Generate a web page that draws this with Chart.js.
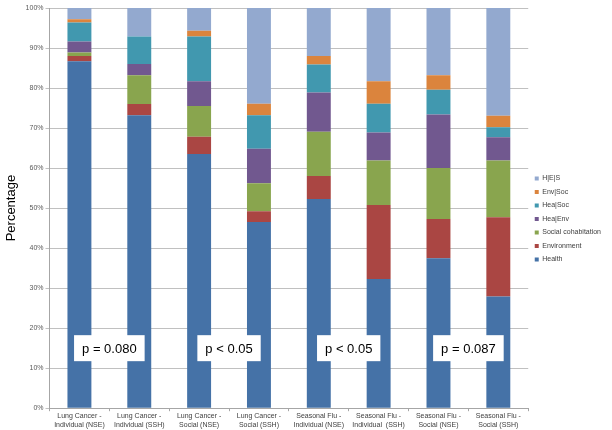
<!DOCTYPE html>
<html>
<head>
<meta charset="utf-8">
<script src="https://cdn.jsdelivr.net/npm/chart.js@4"></script>
<style>
  html, body { margin: 0; padding: 0; background: #fff; }
  #wrap { width: 612px; height: 430px; }
</style>
</head>
<body>
<div id="wrap"><canvas id="grafico" width="612" height="430"></canvas></div>
<script>
// categorias y valores (%)
const categorias = [
    ['Lung Cancer -', 'Individual (NSE)'],
    ['Lung Cancer -', 'Individual (SSH)'],
    ['Lung Cancer -', 'Social (NSE)'],
    ['Lung Cancer -', 'Social (SSH)'],
    ['Seasonal Flu -', 'Individual (NSE)'],
    ['Seasonal Flu -', 'Individual  (SSH)'],
    ['Seasonal Flu -', 'Social (NSE)'],
    ['Seasonal Flu -', 'Social (SSH)']
];
const health        = [86.7, 73.2, 63.5, 46.5, 52.3, 32.3, 37.5, 27.9];
const environment   = [1.3, 2.8, 4.3, 2.7, 5.7, 18.5, 9.8, 19.8];
const socialCohab   = [0.9, 7.2, 7.7, 7.0, 11.1, 11.1, 12.7, 14.2];
const heaEnv        = [2.7, 2.8, 6.2, 8.6, 9.8, 7.0, 13.4, 5.8];
const heaSoc        = [4.8, 6.9, 11.2, 8.4, 7.0, 7.2, 6.2, 2.5];
const envSoc        = [0.8, 0.0, 1.4, 2.9, 2.1, 5.6, 3.6, 2.9];
const hes           = [2.8, 7.1, 5.7, 23.9, 12.0, 18.3, 16.8, 26.9];

const yTicks = [0, 10, 20, 30, 40, 50, 60, 70, 80, 90, 100];

// valores p entre pares de barras
const pTextos = ['p = 0.080', 'p < 0.05', 'p < 0.05', 'p = 0.087'];
const pPares = [0, 2, 4, 6];
const pNivel = 15;

const series = [
    { label: 'Health', data: health, color: '#4572A7' },
    { label: 'Environment', data: environment, color: '#AA4643' },
    { label: 'Social cohabitation', data: socialCohab, color: '#89A54E' },
    { label: 'Hea|Env', data: heaEnv, color: '#71588F' },
    { label: 'Hea|Soc', data: heaSoc, color: '#4198AF' },
    { label: 'Env|Soc', data: envSoc, color: '#DB843D' },
    { label: 'H|E|S', data: hes, color: '#93A9CF' }
];

const fuente = "'Liberation Sans', Arial, sans-serif";

const etiquetasP = {
    id: 'etiquetasP',
    afterDatasetsDraw(chart) {
        const ctx = chart.ctx;
        const x = chart.scales.x;
        const y = chart.scales.y;
        ctx.save();
        ctx.font = '13px ' + fuente;
        ctx.textAlign = 'center';
        ctx.textBaseline = 'middle';
        pTextos.forEach((txt, i) => {
            const k = pPares[i];
            const cx = (x.getPixelForValue(k) + x.getPixelForValue(k + 1)) / 2;
            const cy = y.getPixelForValue(pNivel);
            const w = ctx.measureText(txt).width + 16;
            const h = 26;
            ctx.fillStyle = '#ffffff';
            ctx.fillRect(cx - w / 2, cy - h / 2, w, h);
            ctx.fillStyle = '#000000';
            ctx.fillText(txt, cx, cy + 1);
        });
        ctx.restore();
    }
};

new Chart(document.getElementById('grafico'), {
    type: 'bar',
    data: {
        labels: categorias,
        datasets: series.map(s => ({
            label: s.label,
            data: s.data,
            backgroundColor: s.color,
            borderWidth: 0,
            categoryPercentage: 1,
            barPercentage: 0.4
        }))
    },
    options: {
        responsive: false,
        animation: false,
        layout: { padding: { top: 8, right: 1, left: 4, bottom: 0 } },
        plugins: {
            tooltip: { enabled: false },
            legend: {
                position: 'right',
                reverse: true,
                labels: {
                    font: { size: 7, family: fuente },
                    color: '#404040',
                    boxWidth: 4,
                    boxHeight: 4,
                    padding: 6.5
                }
            }
        },
        scales: {
            x: {
                stacked: true,
                grid: { display: true, drawOnChartArea: false, tickLength: 3, color: '#a6a6a6' },
                border: { color: '#a6a6a6' },
                ticks: {
                    font: { size: 7, family: fuente },
                    color: '#404040',
                    maxRotation: 0,
                    autoSkip: false,
                    padding: 1
                }
            },
            y: {
                stacked: true,
                min: 0,
                max: 100,
                afterBuildTicks: (eje) => { eje.ticks = yTicks.map(v => ({ value: v })); },
                grid: { color: '#c0c0c0', tickLength: 4 },
                border: { color: '#a6a6a6' },
                ticks: {
                    font: { size: 7, family: fuente },
                    color: '#595959',
                    padding: 2,
                    callback: v => v + '%'
                },
                title: {
                    display: true,
                    text: 'Percentage',
                    font: { size: 13, family: fuente },
                    color: '#000000',
                    padding: { top: 0, bottom: 4 }
                }
            }
        }
    },
    plugins: [etiquetasP]
});
</script>
</body>
</html>
